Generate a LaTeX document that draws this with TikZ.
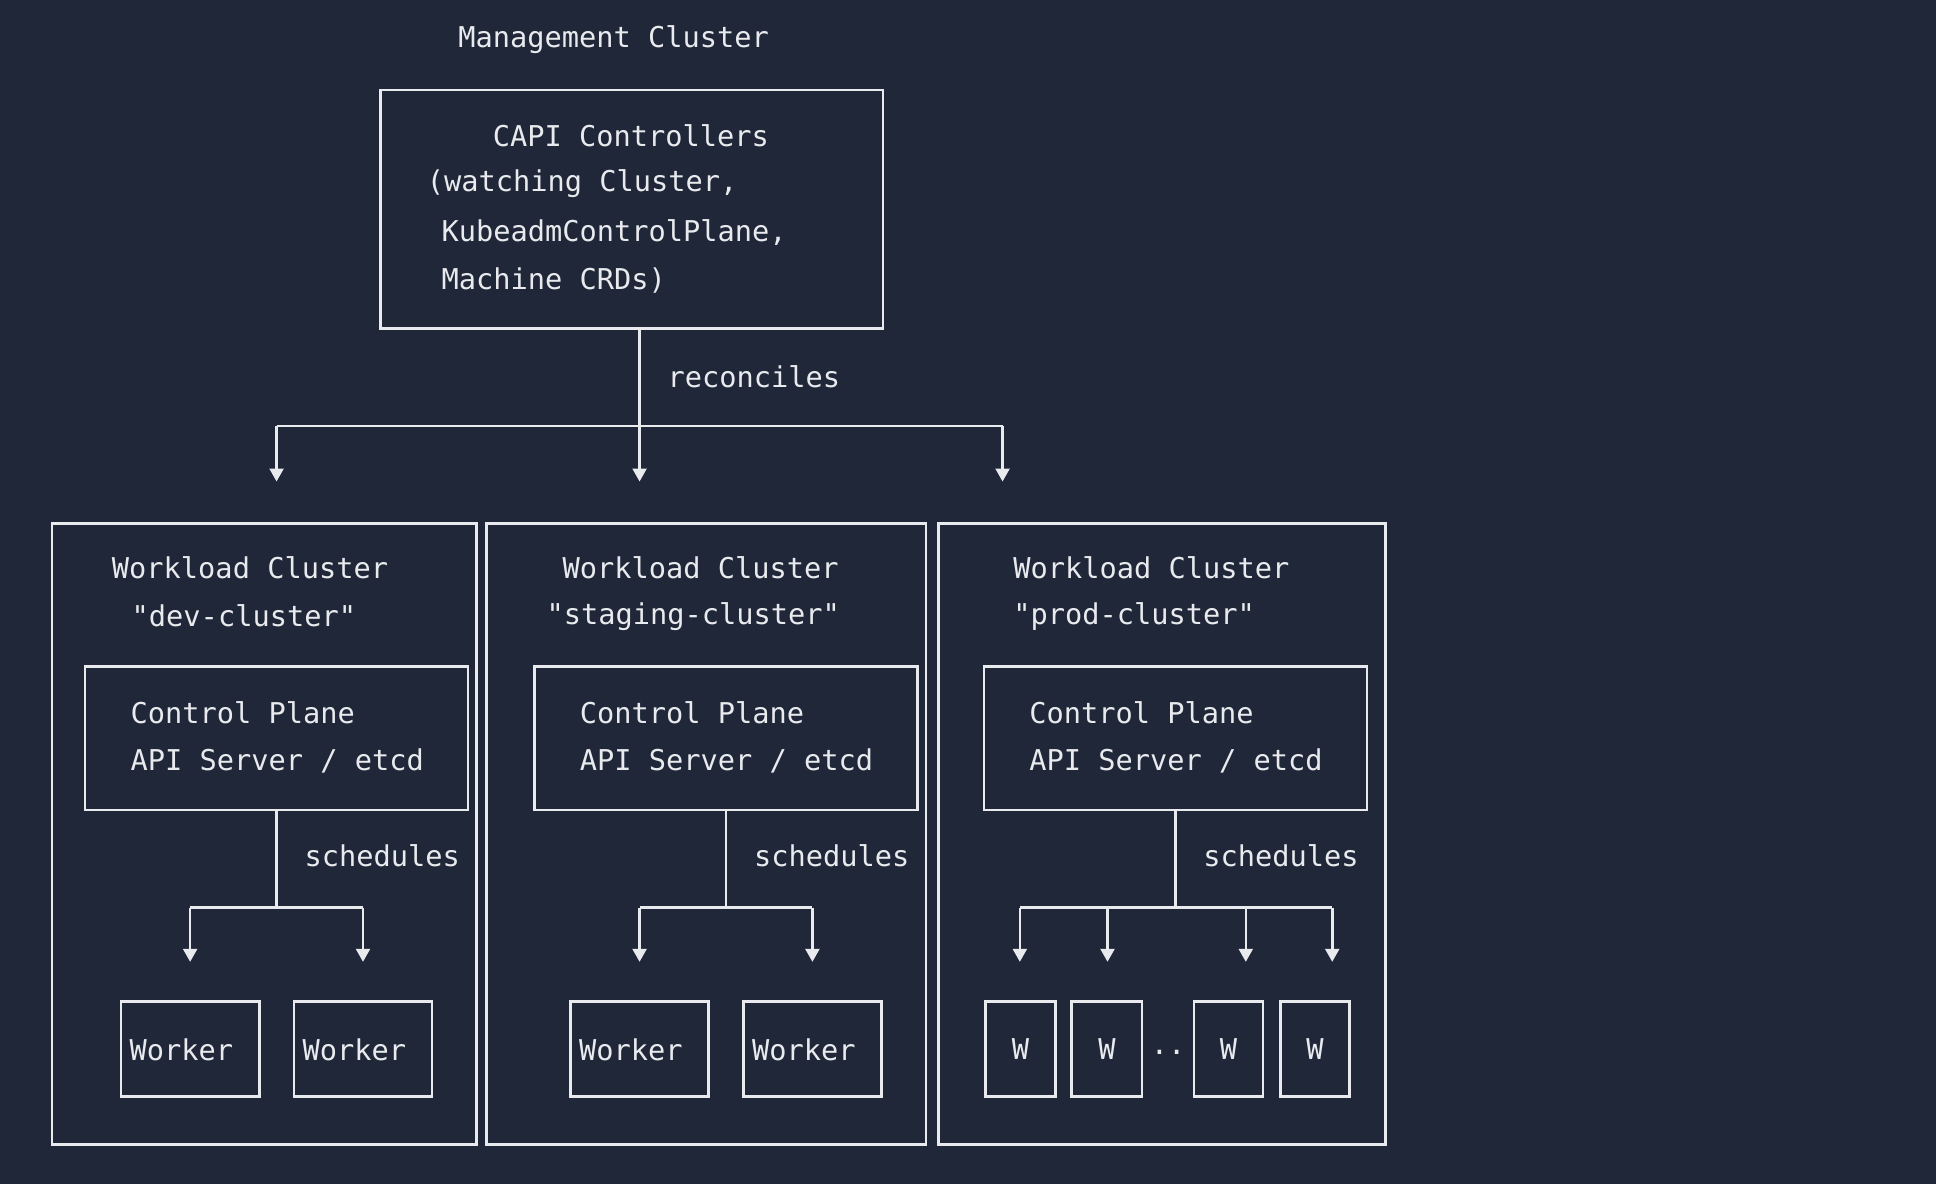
\documentclass[tikz,border=0pt]{standalone}
\usepackage{fontspec}
\setmonofont{DejaVu Sans Mono}
\usetikzlibrary{arrows.meta,positioning}
\definecolor{bg}{HTML}{1F2738}
\definecolor{fg}{HTML}{E8EAEE}
\tikzset{
  box/.style={draw=fg,line width=0.6pt,inner sep=0pt},
  txt/.style={text=fg,font=\ttfamily\fontsize{6.6}{8}\selectfont,inner sep=0pt,anchor=west},
  wire/.style={draw=fg,line width=0.6pt},
  arr/.style={wire,-{Triangle[width=3.2pt,length=3pt]}}
}
\begin{document}
\begin{tikzpicture}[x=0.01cm,y=-0.01cm]
  \fill[bg] (0,0) rectangle (1568,959);
  % management cluster
  \node[txt,anchor=center] (mgmt) at (497,32) {Management Cluster};
  \draw[box] (308,73) rectangle (715,266);
  \node[txt,anchor=center] (capi) at (511,110) {CAPI Controllers};
  \node[txt] (w1) at (345,149) {(watching Cluster,};
  \node[txt] (w2) at (357,188) {KubeadmControlPlane,};
  \node[txt] (w3) at (357,227) {Machine CRDs)};
  \coordinate (capib) at (518,266);
  \coordinate (bar) at (518,345);
  \draw[wire] (capib) -- (bar);
  \node[txt] (rec) at (540,305) {reconciles};
  \draw[wire] (224,345) -- (812,345);
  \foreach \x in {224,518,812}
    \draw[arr] (\x,345) -- (\x,390);
  % workload clusters
  \foreach \l/\r/\c/\tx/\nx/\name in {42/386/224/90/106/dev-cluster,394/750/588/455/442/staging-cluster,760/1122/952/820/820/prod-cluster}{
    \draw[box] (\l,424) rectangle (\r,927);
    \node[txt] at (\tx,460) {Workload Cluster};
    \node[txt] at (\nx,499) {"\name"};
    \draw[box] (\c-155,540) rectangle (\c+155,656);
    \node[txt] at (\c-119,577) {Control Plane};
    \node[txt] at (\c-119,616) {API Server / etcd};
    \draw[wire] (\c,656) -- (\c,735);
    \node[txt] at (\c+22,693) {schedules};
  }
  % dev and staging workers
  \foreach \c in {224,588}{
    \draw[wire] (\c-70,735) -- (\c+70,735);
    \foreach \d in {-70,70}{
      \draw[arr] (\c+\d,735) -- (\c+\d,779);
      \draw[box] (\c+\d-56,811) rectangle (\c+\d+56,888);
      \node[txt,anchor=center] at (\c+\d-7,850) {Worker};
    }
  }
  % prod workers
  \draw[wire] (826,735) -- (1079,735);
  \foreach \x/\l/\r in {826/798/855,897/868/925,1009/967/1023,1079/1037/1093}{
    \draw[arr] (\x,735) -- (\x,779);
    \draw[box] (\l,811) rectangle (\r,888);
    \node[txt,anchor=center] at ({(\l+\r)/2},850) {W};
  }
  \node[txt,anchor=center] (dots) at (946,852) {..};
\end{tikzpicture}
\end{document}
